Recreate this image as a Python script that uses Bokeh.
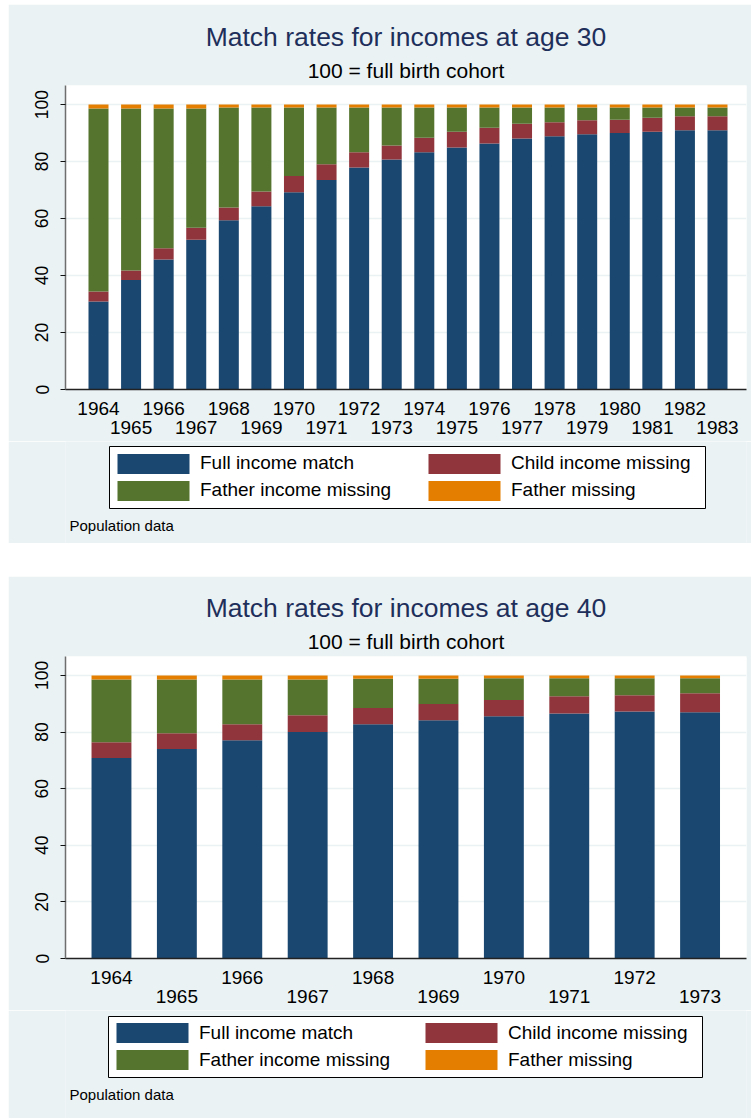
from bokeh.plotting import figure
from bokeh.models import (ColumnDataSource, Range1d, FixedTicker, LinearAxis,
                          Legend, LegendItem, Title, Label, Spacer,
                          BoxAnnotation)
from bokeh.layouts import column, row
from bokeh.embed import file_html
from bokeh.resources import INLINE

# ---------------- data ----------------
years30 = list(range(1964, 1984))
full30 = [30.9, 38.4, 45.6, 52.6, 59.4, 64.3, 69.2, 73.5, 77.9, 80.7,
          83.3, 84.9, 86.3, 88.1, 88.9, 89.6, 90.0, 90.5, 91.0, 91.0]
child30 = [3.5, 3.4, 4.0, 4.2, 4.5, 5.2, 5.7, 5.6, 5.4, 4.9,
           5.1, 5.6, 5.6, 5.2, 4.9, 4.9, 4.7, 4.9, 4.9, 4.9]
finc30 = [64.2, 56.8, 49.0, 41.8, 35.1, 29.5, 24.1, 19.9, 15.7, 13.4,
          10.6, 8.5, 7.1, 5.7, 5.2, 4.5, 4.3, 3.6, 3.1, 3.1]
fmiss30 = [1.4, 1.4, 1.4, 1.4, 1.0, 1.0, 1.0, 1.0, 1.0, 1.0,
           1.0, 1.0, 1.0, 1.0, 1.0, 1.0, 1.0, 1.0, 1.0, 1.0]

years40 = list(range(1964, 1974))
full40 = [70.8, 74.0, 77.1, 80.0, 82.8, 84.2, 85.6, 86.6, 87.3, 87.0]
child40 = [5.6, 5.6, 5.7, 5.9, 5.7, 5.7, 5.7, 6.1, 5.7, 6.7]
finc40 = [22.2, 19.0, 15.8, 12.7, 10.3, 8.9, 7.7, 6.3, 6.0, 5.3]
fmiss40 = [1.4, 1.4, 1.4, 1.4, 1.2, 1.2, 1.0, 1.0, 1.0, 1.0]

series_labels = ["Full income match", "Child income missing",
                 "Father income missing", "Father missing"]
y_ticks = [0, 20, 40, 60, 80, 100]

COLORS = ["#1A476F", "#90353B", "#55752F", "#E37E00"]
BG = "#EAF2F3"
FONT = "Liberation Sans"
TITLE_COLOR = "#1E2F5B"
W = 743
LEFT, RIGHT = 57, 5


def make_chart(title, years, full, child, finc, fmiss, x_lo, x_hi, bar_w,
               top, frame_h, bottom):
    n = len(years)
    src = ColumnDataSource(dict(x=list(range(n)), full=full, child=child,
                                finc=finc, fmiss=fmiss))
    p = figure(width=W, height=top + frame_h + bottom,
               x_range=Range1d(x_lo, x_hi), y_range=Range1d(0, 106.7),
               x_axis_location=None, output_backend="svg",
               toolbar_location=None, min_border_left=LEFT,
               min_border_right=RIGHT, min_border_top=top,
               min_border_bottom=bottom,
               border_fill_color=BG, background_fill_color="white",
               outline_line_color=None)

    p.vbar_stack(["full", "child", "finc", "fmiss"], x="x", width=bar_w,
                 fill_color=COLORS, line_color=None, source=src)

    yax = p.yaxis[0]
    yax.ticker = FixedTicker(ticks=y_ticks)
    yax.major_label_orientation = "vertical"
    yax.major_tick_out = 5
    yax.major_tick_in = 0
    yax.minor_tick_out = 0
    yax.minor_tick_in = 0
    yax.major_tick_line_color = "#111111"
    yax.axis_line_color = "#6E6E6E"
    yax.axis_line_width = 1.5
    yax.major_label_text_font = FONT
    yax.major_label_text_font_size = "17.5px"
    yax.major_label_text_color = "black"
    yax.major_label_standoff = 12

    p.xgrid.visible = False
    p.ygrid.ticker = FixedTicker(ticks=y_ticks)
    p.ygrid.grid_line_color = BG
    p.ygrid.grid_line_width = 1.5

    ticks = list(range(n))
    common = dict(ticker=FixedTicker(ticks=ticks),
                  major_tick_out=0, major_tick_in=0,
                  minor_tick_out=0, minor_tick_in=0,
                  major_label_text_font=FONT,
                  major_label_text_font_size="19px",
                  major_label_text_color="black")
    ax1 = LinearAxis(major_label_overrides={i: (str(y) if i % 2 == 0 else "")
                                            for i, y in enumerate(years)},
                     axis_line_color="#222222", axis_line_width=1.5,
                     major_label_standoff=12, **common)
    ax2 = LinearAxis(major_label_overrides={i: (str(y) if i % 2 == 1 else "")
                                            for i, y in enumerate(years)},
                     axis_line_color=None, major_tick_line_color=None,
                     minor_tick_line_color=None, major_label_standoff=3,
                     **common)
    p.add_layout(ax1, "below")
    p.add_layout(ax2, "below")

    sub = Title(text="100 = full birth cohort", align="center",
                text_font=FONT, text_font_size="21px",
                text_font_style="normal", text_color="black", standoff=7)
    p.add_layout(sub, "above")
    main = Title(text=title, align="center", text_font=FONT,
                 text_font_size="26.5px", text_font_style="normal",
                 text_color=TITLE_COLOR, standoff=4)
    p.add_layout(main, "above")
    return p


def make_footer(height, box, col_x, legend_bottom, note_y):
    f = figure(width=W, height=height, x_range=Range1d(0, W - LEFT - RIGHT),
               y_range=Range1d(0, height), x_axis_location=None,
               y_axis_location=None, output_backend="svg",
               toolbar_location=None, min_border_left=LEFT,
               min_border_right=RIGHT, min_border_top=0, min_border_bottom=0,
               border_fill_color=BG, background_fill_color=BG,
               outline_line_color=None)
    f.xgrid.visible = False
    f.ygrid.visible = False
    left, right, bottom, top = box
    f.add_layout(BoxAnnotation(left=left, right=right, bottom=bottom, top=top,
                               fill_color="white", fill_alpha=1,
                               line_color="black", line_width=1,
                               line_alpha=1))
    # zero-height proxy bars that only carry the legend colours
    rs = [f.vbar(x=[0], top=[0], bottom=[0], width=1, fill_color=c,
                 line_color=None) for c in COLORS]
    for ci, (a, b) in enumerate([(0, 2), (1, 3)]):
        items = [LegendItem(label=series_labels[a], renderers=[rs[a]]),
                 LegendItem(label=series_labels[b], renderers=[rs[b]])]
        leg = Legend(items=items, orientation="vertical",
                     location=(col_x[ci], legend_bottom), margin=0,
                     glyph_width=90, glyph_height=25, label_standoff=2,
                     label_width=0, label_height=20, spacing=2, padding=0,
                     border_line_color=None, background_fill_alpha=0,
                     label_text_font=FONT, label_text_font_size="19px",
                     label_text_color="black")
        f.add_layout(leg)
    f.add_layout(Label(x=4, y=note_y, text="Population data",
                       text_font=FONT, text_font_size="15px",
                       text_color="black", text_baseline="middle"))
    return f


c1 = make_chart("Match rates for incomes at age 30", years30, full30, child30,
                finc30, fmiss30, -1.013, 19.89, 0.614, 81, 304, 52)
f1 = make_footer(102, (44, 640, 35, 97), (43, 354), 40.5, 18)
c2 = make_chart("Match rates for incomes at age 40", years40, full40, child40,
                finc40, fmiss40, -0.703, 9.71, 0.61, 80, 302, 52)
f2 = make_footer(108, (43, 637, 41, 102), (42, 351), 45.8, 24)

layout = row(Spacer(width=8),
             column(Spacer(height=4), c1, f1, Spacer(height=33), c2, f2,
                    spacing=0),
             spacing=0)
open("out.html", "w").write(file_html(layout, INLINE))
